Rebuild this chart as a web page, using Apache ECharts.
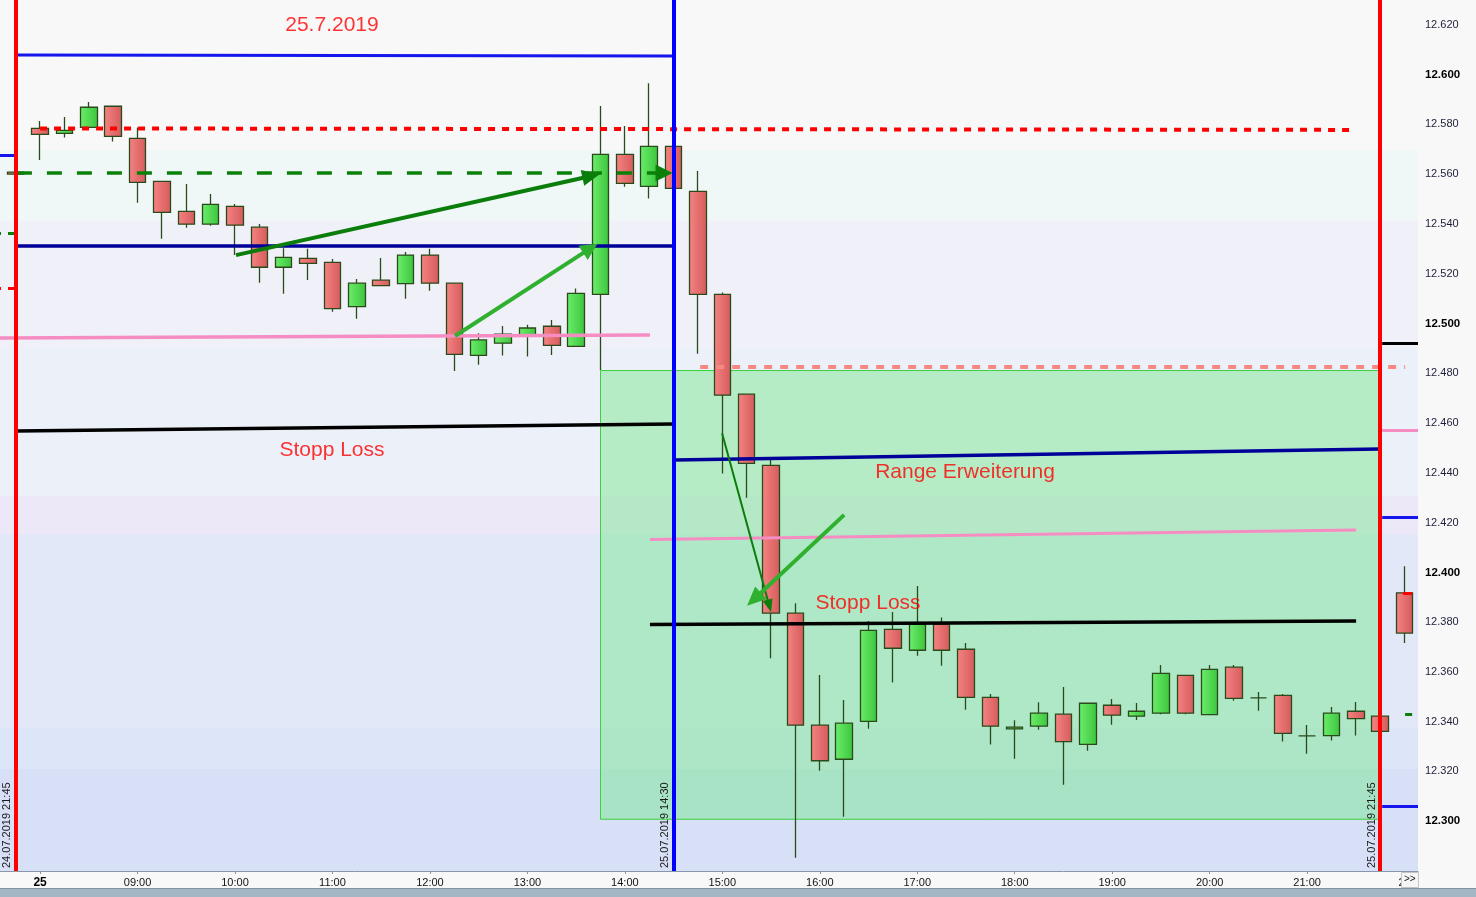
<!DOCTYPE html>
<html><head><meta charset="utf-8">
<script src="https://cdn.jsdelivr.net/npm/echarts@6/dist/echarts.min.js"></script>
<style>html,body{margin:0;padding:0;background:#f8f8f8}#c{width:1476px;height:897px}</style>
</head><body><div id="c"></div>
<script>
// 15-minute slots: 0 = 24.07 21:45, 1 = 25.07 08:00 ... 56 = 25.07 21:45, 57 = 26.07 08:00
const slotIdx = [0,1,2,3,4,5,6,7,8,9,10,11,12,13,14,15,16,17,18,19,20,21,22,23,24,25,26,27,28,29,30,31,32,33,34,35,36,37,38,39,40,41,42,43,44,45,46,47,48,49,50,51,52,53,54,55,56,57];
const opens  = [12.5608,12.5784,12.5764,12.5788,12.5873,12.5744,12.5571,12.5451,12.5399,12.5471,12.5387,12.5226,12.5262,12.5246,12.5068,12.5174,12.5160,12.5275,12.5162,12.4872,12.4921,12.4951,12.4989,12.4908,12.5117,12.5680,12.5551,12.5712,12.5531,12.5117,12.4716,12.4430,12.3836,12.3386,12.3249,12.3401,12.3771,12.3687,12.3791,12.3691,12.3498,12.3371,12.3382,12.3430,12.3309,12.3466,12.3422,12.3434,12.3586,12.3428,12.3619,12.3496,12.3506,12.3343,12.3344,12.3442,12.3422,12.3918];
const closes = [12.5600,12.5760,12.5776,12.5869,12.5752,12.5567,12.5447,12.5399,12.5479,12.5395,12.5226,12.5266,12.5242,12.5060,12.5162,12.5152,12.5275,12.5162,12.4876,12.4934,12.4957,12.4982,12.4912,12.5121,12.5680,12.5563,12.5712,12.5543,12.5117,12.4712,12.4438,12.3836,12.3386,12.3243,12.3394,12.3767,12.3695,12.3791,12.3687,12.3498,12.3382,12.3378,12.3434,12.3320,12.3474,12.3426,12.3442,12.3594,12.3434,12.3610,12.3494,12.3496,12.3353,12.3343,12.3434,12.3412,12.3361,12.3756];
const lows   = [12.5600,12.5657,12.5747,12.5788,12.5731,12.5485,12.5341,12.5385,12.5393,12.5275,12.5164,12.5120,12.5175,12.5047,12.5019,12.5152,12.5100,12.5132,12.4809,12.4834,12.4871,12.4867,12.4873,12.4908,12.4813,12.5550,12.5502,12.5543,12.4879,12.4397,12.4300,12.3655,12.2853,12.3203,12.3018,12.3372,12.3557,12.3665,12.3625,12.3448,12.3308,12.3251,12.3368,12.3147,12.3283,12.3388,12.3407,12.3430,12.3430,12.3428,12.3484,12.3444,12.3320,12.3271,12.3324,12.3344,12.3361,12.3716];
const highs  = [12.5608,12.5814,12.5830,12.5890,12.5875,12.5788,12.5571,12.5561,12.5520,12.5480,12.5400,12.5302,12.5300,12.5259,12.5179,12.5263,12.5287,12.5300,12.5162,12.4961,12.4990,12.4995,12.5014,12.5141,12.5874,12.5794,12.5965,12.5712,12.5613,12.5125,12.4716,12.4452,12.3876,12.3588,12.3487,12.3805,12.3841,12.3945,12.3819,12.3716,12.3511,12.3406,12.3478,12.3539,12.3474,12.3491,12.3475,12.3628,12.3586,12.3628,12.3628,12.3519,12.3511,12.3387,12.3459,12.3479,12.3422,12.4025];

const xTickIdx    = [1,5,9,13,17,21,25,29,33,37,41,45,49,53,57];
const xTickLabels = ['25','09:00','10:00','11:00','12:00','13:00','14:00','15:00','16:00','17:00','18:00','19:00','20:00','21:00','26'];

const sessionIdx    = [0, 27, 56];
const sessionLabels = ['24.07.2019 21:45', '25.07.2019 14:30', '25.07.2019 21:45'];

// background price bands (upper, lower)
const bandEdges = [12.63, 12.5697, 12.5414, 12.4902, 12.4307, 12.4154, 12.3375, 12.3210, 12.28];
// trading range box: [slotFrom, slotTo, priceTop, priceBottom]
const rangeBox = [24, 56, 12.4811, 12.3008];

// drawn lines: [[slot, price],[slot, price]]
const lineTopBlue   = [[0, 12.6079], [27, 12.6075]];
const lineNavy1     = [[0, 12.5312], [27, 12.5312]];
const linePink1     = [[-0.644, 12.4942], [26.03, 12.4954]];
const lineBlack1    = [[0, 12.4568], [27, 12.4596]];
const lineRedDot    = [[1.0, 12.5784], [54.76, 12.5778]];
const lineGreenDash = [[0.05, 12.5605], [26.61, 12.5605]];
const lineSalmonDot = [[28.09, 12.4825], [57.02, 12.4825]];
const lineNavy2     = [[27, 12.4452], [56, 12.4496]];
const linePink2     = [[26.03, 12.4132], [55.01, 12.4170]];
const lineBlack2    = [[26.03, 12.3791], [55.01, 12.3805]];
const stubBlueL     = [[-0.644, 12.5677], [0, 12.5677]];
const stubGreenL    = [[-0.644, 12.5364], [0, 12.5364]];
const stubRedL      = [[-0.644, 12.5141], [0, 12.5141]];
const stubBlackR    = [[56.08, 12.4922], [57.55, 12.4922]];
const stubPinkR     = [[56.08, 12.4572], [57.55, 12.4572]];
const stubBlueR1    = [[56.08, 12.4223], [57.55, 12.4223]];
const stubBlueR2    = [[56.08, 12.3061], [57.55, 12.3061]];
const tickGreenR    = [[57.02, 12.3430], [57.31, 12.3430]];
const tickRedR      = [[56.94, 12.3917], [57.31, 12.3917]];
const arrow1 = [[9.04, 12.5275], [23.62, 12.5593]];
const arrow2 = [[18.03, 12.4950], [23.58, 12.5302]];
const arrow4 = [[28.99, 12.4559], [30.93, 12.3865]];
const arrow5 = [[34.0, 12.4231], [30.30, 12.3892]];

const noteTexts  = ['25.7.2019', 'Stopp Loss', 'Range Erweiterung', 'Stopp Loss'];
const noteSlots  = [12.98, 12.98, 38.96, 34.98];
const notePrices = [12.6200, 12.4492, 12.4403, 12.3877];

// ---------------------------------------------------------------
const chart = echarts.init(document.getElementById('c'), null, {renderer: 'canvas'});
const candles = slotIdx.map((s, k) => [s, opens[k], closes[k], lows[k], highs[k]]);

const bandColors = ['#f8f8f8', '#f0f8f7', '#f0f0f8', '#ecf0f8', '#ece8f8', '#e2e8f8', '#dce6f8', '#d8e0f8'];
const bandData = [];
for (let k = 0; k < bandEdges.length - 1; k++) {
  bandData.push([{yAxis: bandEdges[k], itemStyle: {color: bandColors[k], borderWidth: 0}}, {yAxis: bandEdges[k + 1]}]);
}
bandData.push([
  {coord: [rangeBox[0], rangeBox[2]], itemStyle: {color: 'rgba(105,232,128,0.42)', borderColor: '#3ad23a', borderWidth: 1}},
  {coord: [rangeBox[1], rangeBox[3]]}
]);

function seg(pts, style, end) {
  const a = {coord: pts[0], lineStyle: style, symbol: 'none'};
  const b = {coord: pts[1], symbol: end ? 'triangle' : 'none'};
  if (end) { b.symbolSize = end; b.itemStyle = {color: style.color}; }
  return [a, b];
}
const BLUE = '#1515ee', NAVY = '#000099', PINK = '#f58dc3', DKGREEN = '#0b7d0b', LTGREEN = '#2fb12f';
const lineData = [
  seg(lineTopBlue,   {color: BLUE, width: 3, type: 'solid'}),
  seg(lineNavy1,     {color: NAVY, width: 3.5, type: 'solid'}),
  seg(linePink1,     {color: PINK, width: 3.5, type: 'solid'}),
  seg(lineBlack1,    {color: '#000', width: 3.5, type: 'solid'}),
  seg(lineRedDot,    {color: '#ff0000', width: 4, type: [7, 7]}),
  seg(lineGreenDash, {color: '#0a800a', width: 3.5, type: [15, 15]}, [17, 17]),
  seg(lineSalmonDot, {color: '#f58a84', width: 4, type: [8, 8]}),
  seg(lineNavy2,     {color: NAVY, width: 3.5, type: 'solid'}),
  seg(linePink2,     {color: PINK, width: 3, type: 'solid'}),
  seg(lineBlack2,    {color: '#000', width: 3.5, type: 'solid'}),
  seg(stubBlueL,     {color: BLUE, width: 3, type: 'solid'}),
  seg(stubGreenL,    {color: '#0a800a', width: 3, type: [7, 7], dashOffset: 6}),
  seg(stubRedL,      {color: '#ff0000', width: 3, type: [7, 7], dashOffset: 6}),
  seg(stubBlackR,    {color: '#000', width: 3, type: 'solid'}),
  seg(stubPinkR,     {color: PINK, width: 3, type: 'solid'}),
  seg(stubBlueR1,    {color: BLUE, width: 3, type: 'solid'}),
  seg(stubBlueR2,    {color: BLUE, width: 3, type: 'solid'}),
  seg(tickGreenR,    {color: '#0a800a', width: 3, type: 'solid'}),
  seg(tickRedR,      {color: '#ff0000', width: 3, type: 'solid'}),
  seg(arrow1, {color: DKGREEN, width: 4, type: 'solid'}, [16, 18]),
  seg(arrow2, {color: LTGREEN, width: 4, type: 'solid'}, [17, 17]),
  seg(arrow4, {color: DKGREEN, width: 2, type: 'solid'}, [10, 13]),
  seg(arrow5, {color: LTGREEN, width: 4, type: 'solid'}, [17, 19])
];
const sessionColors = ['#ff0000', '#0000ff', '#ff0000'];
sessionIdx.forEach((s, k) => {
  lineData.push({
    xAxis: s,
    lineStyle: {color: sessionColors[k], width: 4, type: 'solid'},
    label: {show: true, position: 'insideStartTop', formatter: sessionLabels[k], distance: [3, 3],
            color: '#1a1a1a', fontSize: 11, fontFamily: 'Liberation Sans'}
  });
});

const grad = (a, b) => ({type: 'linear', x: 0, y: 0, x2: 1, y2: 0, colorStops: [{offset: 0, color: a}, {offset: 1, color: b}]});

const option = {
  animation: false,
  backgroundColor: '#f8f8f8',
  grid: {left: 0, right: 58, top: 0, bottom: 26, containLabel: false},
  xAxis: {
    type: 'value', min: -0.644, max: 57.55,
    splitLine: {show: false},
    axisLine: {lineStyle: {color: '#8797a7', width: 1}},
    axisTick: {customValues: xTickIdx, length: 3, lineStyle: {color: '#8797a7'}},
    axisLabel: {
      customValues: xTickIdx, margin: 6, fontSize: 11, color: '#141414', fontFamily: 'Liberation Sans',
      formatter: v => {
        const k = xTickIdx.indexOf(Math.round(v));
        if (k < 0) return '';
        return k === 0 ? '{b|' + xTickLabels[k] + '}' : xTickLabels[k];
      },
      rich: {b: {fontWeight: 'bold', fontSize: 12, color: '#000', fontFamily: 'Liberation Sans'}}
    }
  },
  yAxis: {
    type: 'value', position: 'right', min: 12.28, max: 12.63, interval: 0.01, scale: true,
    splitLine: {show: false},
    axisLine: {show: true, lineStyle: {color: '#8797a7'}},
    axisTick: {show: true, length: 5, lineStyle: {color: '#8797a7'}},
    axisLabel: {
      margin: 7, fontSize: 11, color: '#1e1e3a', fontFamily: 'Liberation Sans',
      formatter: v => {
        const k = Math.round(v * 1000);
        if (k % 20 !== 0 || k <= 12280 || k >= 12630) return '';
        const s = (k / 1000).toFixed(3);
        return k % 100 === 0 ? '{b|' + s + '}' : s;
      },
      rich: {b: {fontWeight: 'bold', fontSize: 11.5, color: '#000', fontFamily: 'Liberation Sans'}}
    }
  },
  series: [
    {
      type: 'candlestick',
      name: 'price',
      dimensions: ['t', 'open', 'close', 'lowest', 'highest'],
      encode: {x: 't', y: ['open', 'close', 'lowest', 'highest']},
      data: candles,
      barWidth: 17,
      z: 2,
      silent: true,
      itemStyle: {
        color: grad('#6cee6c', '#3cc43c'),
        color0: grad('#f68383', '#d45b5b'),
        borderColor: '#2b4a1b', borderColor0: '#2b4a1b', borderColorDoji: '#2b4a1b',
        borderWidth: 1.3
      },
      emphasis: {disabled: true},
      markArea: {silent: true, z: 1, data: bandData},
      markLine: {silent: true, z: 5, symbol: ['none', 'none'], label: {show: false}, emphasis: {disabled: true}, data: lineData}
    },
    {
      type: 'scatter',
      name: 'notes',
      z: 6,
      silent: true,
      symbolSize: 1,
      itemStyle: {color: 'rgba(0,0,0,0)'},
      label: {show: true, position: 'inside', formatter: '{b}', color: '#ff0000', fontSize: 21, fontFamily: 'Liberation Sans'},
      labelLayout: {hideOverlap: false},
      emphasis: {disabled: true},
      data: noteTexts.map((t, k) => ({name: t, value: [noteSlots[k], notePrices[k]]}))
    }
  ],
  graphic: [
    {type: 'rect', left: 0, top: 888, shape: {width: 1476, height: 9}, style: {fill: '#a4b6c4'}, z: 100},
    {type: 'rect', left: 0, top: 888, shape: {width: 1476, height: 1}, style: {fill: '#7d93a3'}, z: 101},
    {type: 'rect', left: 1401, top: 872, shape: {width: 17, height: 15}, style: {fill: '#f6f6f6', stroke: '#c4c4c4', lineWidth: 1}, z: 100},
    {type: 'text', left: 1404, top: 874, style: {text: '>>', fontSize: 10, fill: '#222', fontFamily: 'Liberation Sans'}, z: 101}
  ]
};
chart.setOption(option);
</script></body></html>
